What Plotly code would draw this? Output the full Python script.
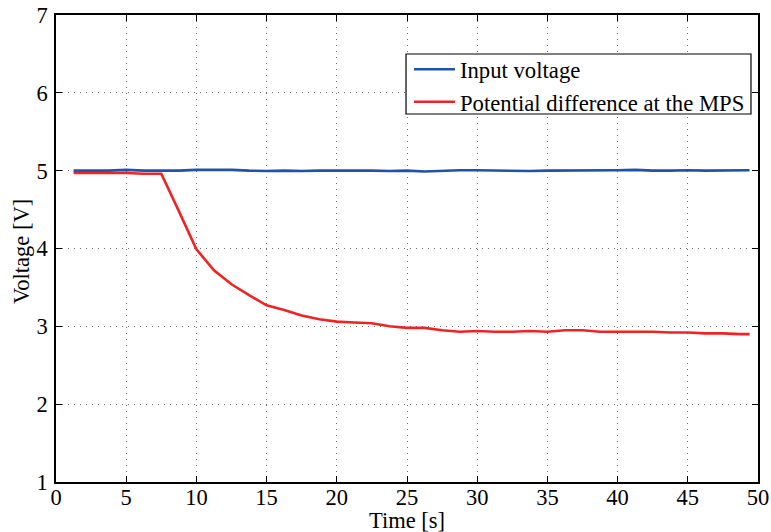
import plotly.graph_objects as go

time_s = [1.25, 2.5, 3.75, 5, 6.25, 7.5, 8.75, 10, 11.25, 12.5, 13.75, 15, 16.25, 17.5, 18.75, 20,
          21.25, 22.5, 23.75, 25, 26.25, 27.5, 28.75, 30, 31.25, 32.5, 33.75, 35, 36.25, 37.5, 38.75,
          40, 41.25, 42.5, 43.75, 45, 46.25, 47.5, 48.75, 49.4]
input_voltage = [5.0, 5.0, 5.0, 5.01, 5.0, 5.0, 5.0, 5.01, 5.01, 5.01, 5.0, 4.995, 5.0, 4.995, 5.0, 5.0,
                 5.005, 5.0, 4.995, 5.0, 4.99, 5.0, 5.005, 5.005, 5.0, 5.0, 4.995, 5.0, 5.0, 5.005, 5.0,
                 5.005, 5.01, 5.0, 5.0, 5.005, 5.0, 5.0, 5.005, 5.005]
mps_voltage = [4.97, 4.97, 4.97, 4.97, 4.96, 4.96, 4.48, 3.99, 3.72, 3.54, 3.40, 3.27, 3.21, 3.14, 3.09, 3.06,
               3.05, 3.04, 3.00, 2.98, 2.98, 2.95, 2.93, 2.94, 2.93, 2.93, 2.94, 2.93, 2.95, 2.95, 2.93,
               2.93, 2.93, 2.93, 2.92, 2.92, 2.91, 2.91, 2.90, 2.90]
x_ticks = [0, 5, 10, 15, 20, 25, 30, 35, 40, 45, 50]
y_ticks = [1, 2, 3, 4, 5, 6, 7]
x_title = "Time [s]"
y_title = "Voltage [V]"

font_family = "Liberation Serif"
fs = 22.5

fig = go.Figure()
fig.add_trace(go.Scatter(x=time_s, y=input_voltage, mode="lines", name="Input voltage",
                         line=dict(color="#1f52a8", width=2.6)))
fig.add_trace(go.Scatter(x=time_s, y=mps_voltage, mode="lines", name="Potential difference at the MPS",
                         line=dict(color="#ee2424", width=2.6)))

axis_common = dict(
    showline=True, linecolor="black", linewidth=1.5, mirror="ticks",
    ticks="inside", ticklen=6, tickcolor="black", tickwidth=1,
    showgrid=True, gridcolor="rgba(90,90,90,0.9)", griddash="1px,5px", gridwidth=1,
    zeroline=False, automargin=False, ticklabeloverflow="allow",
    tickfont=dict(family=font_family, size=fs, color="black"),
)

fig.update_xaxes(range=[0, 50], tickvals=x_ticks, ticktext=[str(v) for v in x_ticks], ticklabelstandoff=-6,
                 **axis_common)
fig.update_yaxes(range=[1, 7], tickvals=y_ticks, ticktext=[str(v) for v in y_ticks], ticklabelstandoff=2,
                 **axis_common)

fig.add_annotation(text=x_title, xref="paper", yref="paper", x=0.5, y=0, xanchor="center", yanchor="middle",
                   yshift=-38, showarrow=False, font=dict(family=font_family, size=fs, color="black"))
fig.add_annotation(text=y_title, xref="paper", yref="paper", x=0, y=0.4925, xanchor="center", yanchor="middle",
                   xshift=-35, textangle=-90, showarrow=False,
                   font=dict(family=font_family, size=fs, color="black"))

# legend frame
fig.add_shape(type="rect", xref="paper", yref="paper", x0=0.4986, x1=0.990, y0=0.788, y1=0.9165,
              line=dict(color="black", width=1.2), fillcolor="white", layer="above")

fig.update_layout(
    width=771, height=532,
    margin=dict(l=56, r=13, t=15, b=50, autoexpand=False),
    paper_bgcolor="white", plot_bgcolor="white",
    font=dict(family=font_family, color="black"),
    legend=dict(x=0.5028, y=0.9293, xanchor="left", yanchor="top", itemwidth=41,
                borderwidth=0, bgcolor="rgba(0,0,0,0)",
                font=dict(family=font_family, size=22.7, color="black")),
    showlegend=True,
)

fig.write_html("out.html", config={"displayModeBar": False},
               post_script="document.body.style.margin='0';document.body.style.overflow='hidden';")
